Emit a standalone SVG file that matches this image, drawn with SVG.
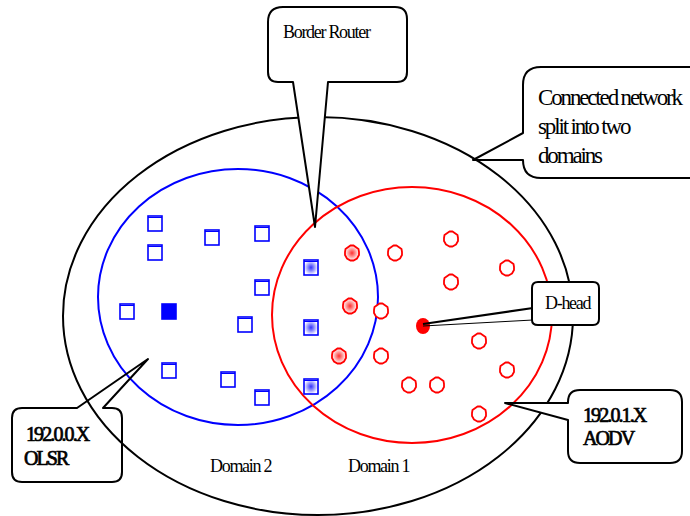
<svg xmlns="http://www.w3.org/2000/svg" width="690" height="516" viewBox="0 0 690 516">
<style>
text{font-family:"Liberation Serif","Times New Roman",serif;fill:#000}
.lbl{font-size:18px;letter-spacing:-1.3px}
.big{font-size:23px;letter-spacing:-2.15px}
.ip{font-size:20px;letter-spacing:-1.9px;stroke:#000;stroke-width:0.7}
.call{fill:#fff;stroke:#000;stroke-width:2;stroke-linejoin:round}
.open{fill:none;stroke:#000;stroke-width:2;stroke-linejoin:round}
.sq{fill:#fff;stroke:#0000ff;stroke-width:1.6}
.hx{fill:#fff;stroke:#ff0000;stroke-width:1.8;stroke-linejoin:round}
</style>
<defs>
<radialGradient id="gb"><stop offset="0" stop-color="#3030ff"/><stop offset="1" stop-color="#ffffff"/></radialGradient>
<radialGradient id="gr"><stop offset="0" stop-color="#ff3030"/><stop offset="1" stop-color="#ffffff"/></radialGradient>
<path id="hx" d="M-1.5,-7.5 L1.5,-7.5 L6.5,-4 L7,-1 L7,2 L5,5.5 L1.5,7.5 L-1.5,7.5 L-5,5.5 L-7,2 L-7,-1 L-6.5,-4 Z"/>
</defs>

<g id="regions" fill="none" stroke-width="2">
<ellipse id="network" cx="318" cy="316" rx="255" ry="199" stroke="#000"/>
<ellipse id="domain2" cx="238" cy="297" rx="140" ry="128" stroke="#0000ff"/>
<ellipse id="domain1" cx="412" cy="315" rx="140" ry="128" stroke="#ff0000"/>
</g>

<g id="domain2-nodes">
<g id="b1" transform="translate(155,223)"><rect x="-7" y="-7" width="14" height="15" class="sq"/><line x1="-7" y1="-5.5" x2="7" y2="-5.5" stroke="#00f"/></g>
<g id="b2" transform="translate(155,252)"><rect x="-7" y="-7" width="14" height="15" class="sq"/><line x1="-7" y1="-5.5" x2="7" y2="-5.5" stroke="#00f"/></g>
<g id="b3" transform="translate(212,237)"><rect x="-7" y="-7" width="14" height="15" class="sq"/><line x1="-7" y1="-5.5" x2="7" y2="-5.5" stroke="#00f"/></g>
<g id="b4" transform="translate(262,233)"><rect x="-7" y="-7" width="14" height="15" class="sq"/><line x1="-7" y1="-5.5" x2="7" y2="-5.5" stroke="#00f"/></g>
<g id="b5" transform="translate(262,287)"><rect x="-7" y="-7" width="14" height="15" class="sq"/><line x1="-7" y1="-5.5" x2="7" y2="-5.5" stroke="#00f"/></g>
<g id="b6" transform="translate(127,311)"><rect x="-7" y="-7" width="14" height="15" class="sq"/><line x1="-7" y1="-5.5" x2="7" y2="-5.5" stroke="#00f"/></g>
<g id="b7" transform="translate(169,311)"><rect x="-7" y="-7" width="14" height="15" fill="#0000ff" stroke="#0000ff" stroke-width="1.6"/></g>
<g id="b8" transform="translate(245,324)"><rect x="-7" y="-7" width="14" height="15" class="sq"/><line x1="-7" y1="-5.5" x2="7" y2="-5.5" stroke="#00f"/></g>
<g id="b9" transform="translate(169,370)"><rect x="-7" y="-7" width="14" height="15" class="sq"/><line x1="-7" y1="-5.5" x2="7" y2="-5.5" stroke="#00f"/></g>
<g id="b10" transform="translate(228,379)"><rect x="-7" y="-7" width="14" height="15" class="sq"/><line x1="-7" y1="-5.5" x2="7" y2="-5.5" stroke="#00f"/></g>
<g id="b11" transform="translate(262,397)"><rect x="-7" y="-7" width="14" height="15" class="sq"/><line x1="-7" y1="-5.5" x2="7" y2="-5.5" stroke="#00f"/></g>
<g id="br1" transform="translate(311,267)"><rect x="-7" y="-7" width="14" height="15" fill="url(#gb)" stroke="#0000ff" stroke-width="1.6"/><line x1="-7" y1="-5.5" x2="7" y2="-5.5" stroke="#00f"/></g>
<g id="br2" transform="translate(311,327)"><rect x="-7" y="-7" width="14" height="15" fill="url(#gb)" stroke="#0000ff" stroke-width="1.6"/><line x1="-7" y1="-5.5" x2="7" y2="-5.5" stroke="#00f"/></g>
<g id="br3" transform="translate(311,386)"><rect x="-7" y="-7" width="14" height="15" fill="url(#gb)" stroke="#0000ff" stroke-width="1.6"/><line x1="-7" y1="-5.5" x2="7" y2="-5.5" stroke="#00f"/></g>
</g>

<g id="domain1-nodes">
<use id="r1" href="#hx" class="hx" x="395" y="253"/>
<use id="r2" href="#hx" class="hx" x="451" y="239"/>
<use id="r3" href="#hx" class="hx" x="507" y="268"/>
<use id="r4" href="#hx" class="hx" x="451" y="282"/>
<use id="r5" href="#hx" class="hx" x="381" y="311"/>
<use id="r6" href="#hx" class="hx" x="381" y="356"/>
<use id="r7" href="#hx" class="hx" x="479" y="341"/>
<use id="r8" href="#hx" class="hx" x="507" y="370"/>
<use id="r9" href="#hx" class="hx" x="409" y="385"/>
<use id="r10" href="#hx" class="hx" x="437" y="385"/>
<use id="r11" href="#hx" class="hx" x="479" y="414"/>
<use id="rg1" href="#hx" x="352" y="253" fill="url(#gr)" stroke="#ff0000" stroke-width="1.8"/>
<use id="rg2" href="#hx" x="350" y="306" fill="url(#gr)" stroke="#ff0000" stroke-width="1.8"/>
<use id="rg3" href="#hx" x="339" y="356" fill="url(#gr)" stroke="#ff0000" stroke-width="1.8"/>
<ellipse id="dhead-node" cx="423" cy="326" rx="7" ry="8" fill="#ff0000"/>
</g>

<g id="connectors">
<line x1="423" y1="324" x2="533" y2="308" stroke="#000" stroke-width="2.2"/>
<line x1="423" y1="326" x2="533" y2="320" stroke="#000" stroke-width="1"/>
</g>

<g id="border-router">
<path class="call" d="M268,22 Q268,7 283,7 H395 Q407,7 407,19 V72 Q407,82 397,82 H328 L315,227 L293,82 H278 Q268,82 268,72 Z"/>
<text class="lbl" x="283" y="38">Border Router</text>
</g>

<g id="connected-network">
<path class="call" d="M473,160 L523,133 V85 Q523,67 541,67 H700 V178 H541 Q523,178 523,160 Z"/>
<text class="big" x="538" y="105">Connected network</text>
<text class="big" x="538" y="134">split into two</text>
<text class="big" x="538" y="163">domains</text>
</g>

<g id="dhead">
<path class="call" d="M532,308 V288 Q532,282 538,282 H593 Q599,282 599,288 V319 Q599,325 593,325 H538 Q532,325 532,320 Z"/>
<text class="lbl" x="545" y="309" letter-spacing="-2px">D-head</text>
</g>

<g id="olsr">
<path class="open" d="M77,408 L148,359 L103,408 H112 Q122,408 122,418 V472 Q122,482 112,482 H22 Q12,482 12,472 V418 Q12,408 22,408 Z"/>
<text class="ip" x="26" y="441">192.0.0.X</text>
<text class="ip" x="24" y="465" letter-spacing="-3px">OLSR</text>
</g>

<g id="aodv">
<path class="call" d="M568,403 H505 L568,420 V451 Q568,463 580,463 H670 Q682,463 682,451 V402 Q682,390 670,390 H580 Q568,390 568,402 Z"/>
<text class="ip" x="583" y="422">192.0.1.X</text>
<text class="ip" x="583" y="445" letter-spacing="-3.2px">AODV</text>
</g>

<g id="labels">
<text class="lbl" x="210" y="472">Domain 2</text>
<text class="lbl" x="348" y="472">Domain 1</text>
</g>
</svg>
